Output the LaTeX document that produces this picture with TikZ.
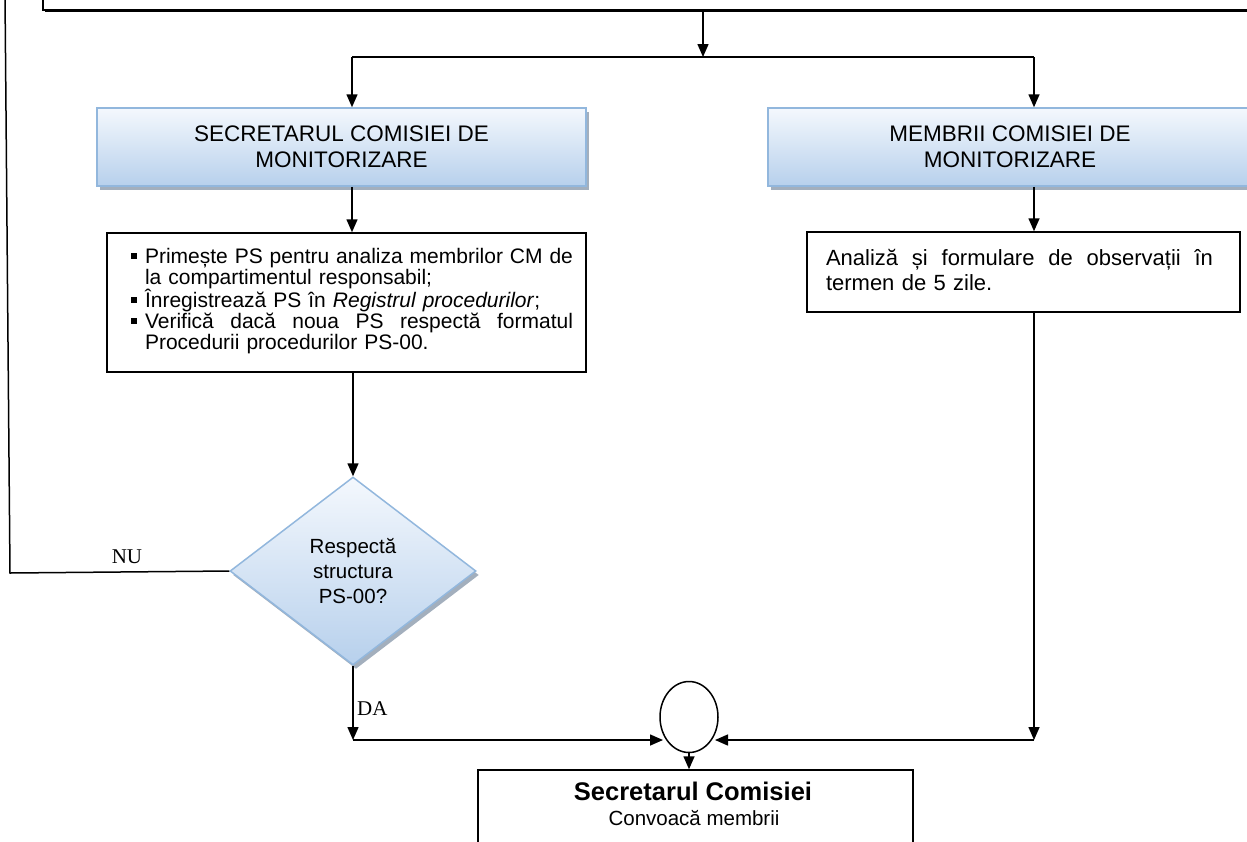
\documentclass[tikz,border=0pt]{standalone}
\usepackage{fontspec}
\setmainfont{Liberation Sans}
\newfontfamily\serifnu{Liberation Serif}
\usetikzlibrary{arrows.meta,shapes.geometric,shadows}
\definecolor{bluetop}{HTML}{F4F8FD}
\definecolor{bluebot}{HTML}{B7D0EC}
\definecolor{blueborder}{HTML}{92B7DD}
\definecolor{shadowgray}{HTML}{A3AFBD}
\newcommand{\bsq}{\makebox[14pt][l]{\raisebox{4.5pt}{\rule{6pt}{6pt}}}}
\begin{document}
\begin{tikzpicture}[x=1pt,y=-1pt,
  line/.style={line width=1.5pt},
  arr/.style={line, -{Triangle[length=13pt,width=11pt]}},
  bluebox/.style={draw=blueborder, line width=1.5pt, top color=bluetop, bottom color=bluebot,
    drop shadow={shadow xshift=3pt,shadow yshift=-4pt,fill=shadowgray,opacity=1},
    minimum height=78pt, inner sep=0pt, align=center,
    font=\fontsize{22.5}{26}\selectfont},
  plainbox/.style={draw, line width=1.5pt, fill=white, inner sep=0pt},
  txt/.style={inner sep=0pt, align=left},
  lbl/.style={inner sep=0pt, font=\serifnu\fontsize{21}{21}\selectfont}]
\useasboundingbox (0,0) rectangle (1247,841);
\clip (0,0) rectangle (1247,841);

% top box (cut off)
\node[plainbox, drop shadow={shadow xshift=2pt,shadow yshift=-2pt,fill=black,opacity=1},
  minimum width=1259pt, minimum height=70pt] (topbox) at (672.5,-25) {};

\coordinate (jtop) at (703,57);
\coordinate (jl) at (352,57);
\coordinate (jr) at (1034,57);

% blue boxes
\node[bluebox, minimum width=489pt] (secbox) at (341.5,147) {SECRETARUL COMISIEI DE\\MONITORIZARE};
\node[bluebox, minimum width=484pt] (membox) at (1010,147) {MEMBRII COMISIEI DE\\MONITORIZARE};

% bullet box
\node[plainbox, minimum width=479pt, minimum height=139pt] (bulbox) at (346.5,302.5) {};
\node[txt, text width=442pt, font=\fontsize{21}{20.8}\selectfont] (bultext) at (352,301) {%
\bsq\hbox to 428pt{Primește\hfill PS\hfill pentru\hfill analiza\hfill membrilor\hfill CM\hfill de}\\
\hspace*{14pt}la compartimentul responsabil;\\
\bsq Înregistrează PS în \textit{Registrul procedurilor};\\
\bsq\hbox to 428pt{Verifică\hfill dacă\hfill noua\hfill PS\hfill respectă\hfill formatul}\\
\hspace*{14pt}Procedurii procedurilor PS-00.};

% analysis box
\node[plainbox, minimum width=433pt, minimum height=80pt] (anbox) at (1023.5,272) {};
\node[txt, text width=387pt, font=\fontsize{22}{25}\selectfont] (antext) at (1019.5,270) {%
\hbox to 387pt{Analiză\hfill și\hfill formulare\hfill de\hfill observații\hfill în}\\
termen de 5 zile.};

% decision
\node[diamond, draw=blueborder, line width=1.5pt, top color=bluetop, bottom color=bluebot,
  drop shadow={shadow xshift=3pt,shadow yshift=-4pt,fill=shadowgray,opacity=1},
  minimum width=246pt, minimum height=188pt, inner sep=0pt, align=center,
  font=\fontsize{20.5}{25}\selectfont] (dia) at (353,571) {Respectă\\structura\\PS-00?};

% merge circle
\node[ellipse, draw, line width=1.5pt, minimum width=58pt, minimum height=71pt, inner sep=0pt] (ell) at (689,717) {};
\path (ell.center) ++(-26,23) coordinate (ellin1);
\path (ell.center) ++(26,23) coordinate (ellin2);

% bottom box
\node[plainbox, minimum width=435pt, minimum height=130pt] (botbox) at (695.5,835) {};
\node[inner sep=0pt, font=\fontsize{25.5}{28}\selectfont\bfseries] (bt1) at (693,791) {Secretarul Comisiei};
\node[inner sep=0pt, font=\fontsize{20.5}{24}\selectfont] (bt2) at (694,818) {Convoacă membrii};

% connectors
\draw[arr] (topbox.south -| jtop) -- (jtop);
\draw[line] (jl) -- (jr);
\draw[arr] (jl) -- (jl |- secbox.north);
\draw[arr] (jr) -- (jr |- membox.north);
\draw[arr] (secbox.south -| jl) -- (jl |- bulbox.north);
\draw[arr] (dia.north |- bulbox.south) -- (dia.north);
\draw[arr] (membox.south -| jr) -- (jr |- anbox.north);

\coordinate (nl) at (10,573);
\coordinate (nt) at (5,-5);
\draw[line] (dia.west) -- (nl) -- (nt);
\node[lbl] (nu) at (127,557) {NU};

\coordinate (dajoin) at (dia.south |- ellin1);
\draw[arr] (dia.south) -- (dajoin);
\draw[arr] (dajoin) -- (ellin1);
\node[lbl, anchor=west] (da) at (357,709) {DA};

\coordinate (rjoin) at (anbox.south -| jr);
\coordinate (rbot) at (jr |- ellin2);
\draw[arr] (rjoin) -- (rbot);
\draw[arr] (rbot) -- (ellin2);

\draw[arr] (ell.south) -- (ell.south |- botbox.north);
\end{tikzpicture}
\end{document}
